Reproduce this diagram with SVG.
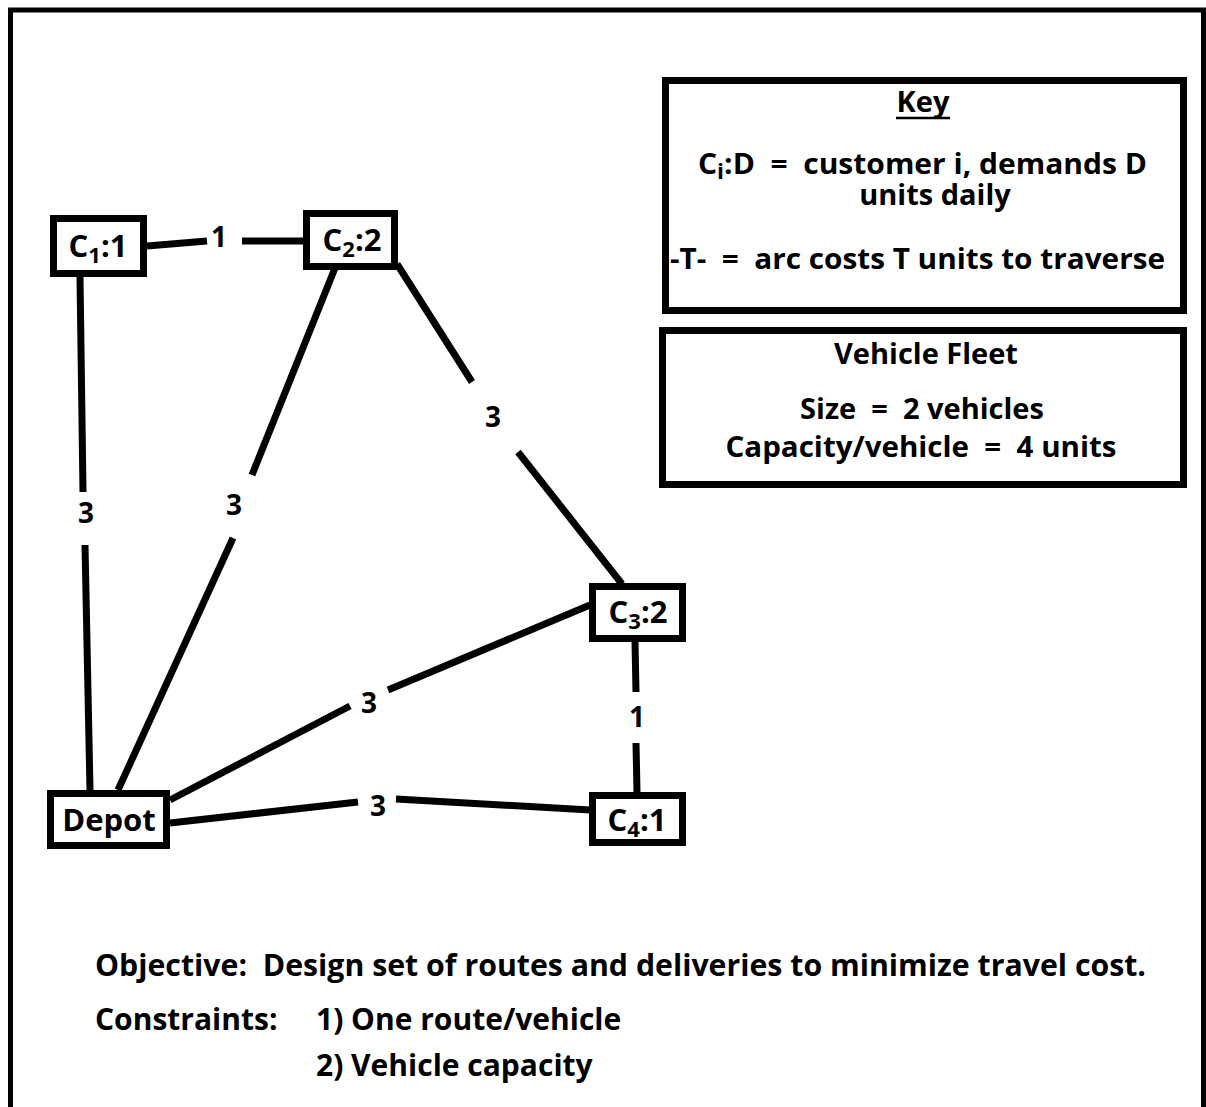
<svg xmlns="http://www.w3.org/2000/svg" width="1206" height="1107" viewBox="0 0 1206 1107">
  <style>
    text { font-family: "Open Sans", "Noto Sans", "Liberation Sans", sans-serif; font-weight: 700; fill: #000; white-space: pre; }
    .box { fill: #fff; stroke: #000; stroke-width: 7; }
    .panel { fill: #fff; stroke: #000; stroke-width: 7; }
    .arc { stroke: #000; stroke-width: 7; fill: none; stroke-linecap: butt; }
    .lbl { font-size: 28px; text-anchor: middle; }
    .node { font-size: 31px; text-anchor: middle; }
    .sub { font-size: 22px; }
    .body { font-size: 29px; }
    .note { font-size: 30px; }
  </style>

  <rect width="1206" height="1107" fill="#fff"/>

  <!-- outer frame, open at the bottom -->
  <path d="M10.5 1107 V10 H1203.5 V1107" fill="none" stroke="#000" stroke-width="5"/>

  <!-- arcs, each broken where its cost is printed -->
  <g id="connectors">
    <path class="arc" d="M147 246 L207 241 M242 241 L303 241"/>
    <path class="arc" d="M80 277 L83 492 M85 545 L90 790"/>
    <path class="arc" d="M335 268 L252 475 M233 538 L118 790"/>
    <path class="arc" d="M397 264 L472 382 M518 452 L622 584"/>
    <path class="arc" d="M170 800 L350 706 M388 690 L590 605"/>
    <path class="arc" d="M170 823 L358 802 M396 799 L590 810"/>
    <path class="arc" d="M635 642 L636 692 M636 743 L637 792"/>
    <g id="arc-labels">
      <text class="lbl" x="219" y="247">1</text>
      <text class="lbl" x="86" y="523">3</text>
      <text class="lbl" x="234" y="515">3</text>
      <text class="lbl" x="493" y="427">3</text>
      <text class="lbl" x="369" y="713">3</text>
      <text class="lbl" x="378" y="816">3</text>
      <text class="lbl" x="637" y="727">1</text>
    </g>
  </g>

  <g id="c1">
    <rect class="box" x="53.5" y="218.5" width="90" height="55"/>
    <text class="node" x="98" y="257">C<tspan class="sub" dy="6">1</tspan><tspan dy="-6">:1</tspan></text>
  </g>
  <g id="c2">
    <rect class="box" x="306.5" y="213.5" width="88" height="53"/>
    <text class="node" x="352" y="251">C<tspan class="sub" dy="6">2</tspan><tspan dy="-6">:2</tspan></text>
  </g>
  <g id="c3">
    <rect class="box" x="592.5" y="586.5" width="90" height="52"/>
    <text class="node" x="638" y="623">C<tspan class="sub" dy="6">3</tspan><tspan dy="-6">:2</tspan></text>
  </g>
  <g id="c4">
    <rect class="box" x="592.5" y="795.5" width="90" height="47"/>
    <text class="node" x="637" y="831">C<tspan class="sub" dy="6">4</tspan><tspan dy="-6">:1</tspan></text>
  </g>
  <g id="depot">
    <rect class="box" x="50.5" y="793.5" width="116" height="52"/>
    <text class="node" x="109" y="831">Depot</text>
  </g>

  <g id="key">
    <rect class="panel" x="665.5" y="80.5" width="518" height="230"/>
    <text class="body" x="923" y="112" text-anchor="middle">Key</text>
    <line x1="896" y1="118" x2="950" y2="118" stroke="#000" stroke-width="2.5"/>
    <text class="body" x="698" y="174" textLength="449" lengthAdjust="spacingAndGlyphs">C<tspan class="sub" dy="5">i</tspan><tspan dy="-5">:D  =  customer i, demands D</tspan></text>
    <text class="body" x="935" y="205" text-anchor="middle">units daily</text>
    <text class="body" x="670" y="269" textLength="495" lengthAdjust="spacingAndGlyphs">-T-  =  arc costs T units to traverse</text>
  </g>

  <g id="fleet">
    <rect class="panel" x="662.5" y="330.5" width="521" height="154"/>
    <text class="body" x="926" y="364" text-anchor="middle">Vehicle Fleet</text>
    <text class="body" x="922" y="419" text-anchor="middle">Size  =  2 vehicles</text>
    <text class="body" x="921" y="457" text-anchor="middle" textLength="391" lengthAdjust="spacingAndGlyphs">Capacity/vehicle  =  4 units</text>
  </g>

  <g id="notes">
    <text class="note" x="95" y="976" textLength="1051" lengthAdjust="spacingAndGlyphs">Objective:  Design set of routes and deliveries to minimize travel cost.</text>
    <text class="note" x="95" y="1030">Constraints:</text>
    <text class="note" x="316" y="1030">1) One route/vehicle</text>
    <text class="note" x="316" y="1076">2) Vehicle capacity</text>
  </g>
</svg>
